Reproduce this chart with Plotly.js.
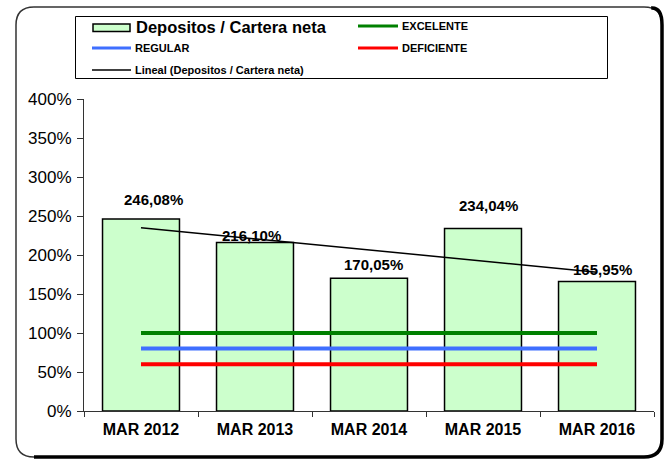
<!DOCTYPE html>
<html><head><meta charset="utf-8">
<script src="https://cdn.plot.ly/plotly-3.0.1.min.js"></script>
<style>html,body{margin:0;padding:0;background:#fff}#chart{width:668px;height:460px}</style>
</head><body><div id="chart"></div>
<script>
// ---- data ----
const categories = ['MAR 2012', 'MAR 2013', 'MAR 2014', 'MAR 2015', 'MAR 2016'];
const depositos = [246.08, 216.10, 170.05, 234.04, 165.95];
const depositosLabels = ['246,08%', '216,10%', '170,05%', '234,04%', '165,95%'];
const excelente = [100, 100, 100, 100, 100];
const regular = [80, 80, 80, 80, 80];
const deficiente = [60, 60, 60, 60, 60];
const trendCategories = ['MAR 2012', 'MAR 2016'];
const trendValues = [235, 178];
const seriesNames = ['Depositos / Cartera neta', 'EXCELENTE', 'REGULAR', 'DEFICIENTE', 'Lineal (Depositos / Cartera neta)'];

// ---- styling (positions, colours) ----
const FONT = 'Arial, "Liberation Sans", sans-serif';
const colBar = '#CCFFCC', colGreen = '#008000', colBlue = '#3F6FFF', colRed = '#FF0000';
const labelShiftX = [12, -4, 4, 5, 5];
const labelShiftY = [20, 7, 14, 23, 12];

const W = 668, H = 460, ML = 84, MR = 14, MT = 99, MB = 49;
const PW = W - ML - MR, PH = H - MT - MB;
const PX = x => (x - ML) / PW;
const PY = y => (H - MB - y) / PH;
const pt = (x, y) => PX(x).toFixed(5) + ',' + PY(y).toFixed(5);

function roundRect(x0, y0, x1, y1, r) {
  return 'M' + pt(x0 + r, y0) + ' L' + pt(x1 - r, y0) + ' Q' + pt(x1, y0) + ' ' + pt(x1, y0 + r) +
    ' L' + pt(x1, y1 - r) + ' Q' + pt(x1, y1) + ' ' + pt(x1 - r, y1) +
    ' L' + pt(x0 + r, y1) + ' Q' + pt(x0, y1) + ' ' + pt(x0, y1 - r) +
    ' L' + pt(x0, y0 + r) + ' Q' + pt(x0, y0) + ' ' + pt(x0 + r, y0) + ' Z';
}
function shadowPath(x0, y0, x1, y1, r) {
  return 'M' + pt(x1 - r * 0.6, y0 + 1) + ' Q' + pt(x1, y0) + ' ' + pt(x1, y0 + r) +
    ' L' + pt(x1, y1 - r) + ' Q' + pt(x1, y1) + ' ' + pt(x1 - r, y1) +
    ' L' + pt(x0 + r, y1);
}

const traces = [
  {type: 'bar', name: seriesNames[0], x: categories, y: depositos,
   marker: {color: colBar, line: {color: '#000', width: 1.5}}, showlegend: false, hoverinfo: 'skip'},
  {type: 'scatter', mode: 'lines', name: seriesNames[1], x: categories, y: excelente,
   line: {color: colGreen, width: 4}, showlegend: false},
  {type: 'scatter', mode: 'lines', name: seriesNames[2], x: categories, y: regular,
   line: {color: colBlue, width: 4}, showlegend: false},
  {type: 'scatter', mode: 'lines', name: seriesNames[3], x: categories, y: deficiente,
   line: {color: colRed, width: 4}, showlegend: false},
  {type: 'scatter', mode: 'lines', name: seriesNames[4], x: trendCategories, y: trendValues,
   line: {color: '#000', width: 1.5}, showlegend: false}
];

const annotations = categories.map((c, i) => ({
  x: c, y: depositos[i], xref: 'x', yref: 'y', text: depositosLabels[i], showarrow: false,
  xanchor: 'center', yanchor: 'middle', xshift: labelShiftX[i], yshift: labelShiftY[i],
  font: {family: FONT, size: 15, color: '#000', weight: 'bold'}
}));

// manual legend (text)
const legendItems = [
  {name: seriesNames[0], x: 135, y: 27.5, size: 16.5},
  {name: seriesNames[1], x: 401, y: 26.5, size: 11},
  {name: seriesNames[2], x: 134, y: 48, size: 11},
  {name: seriesNames[3], x: 401, y: 48, size: 11},
  {name: seriesNames[4], x: 134, y: 70, size: 11}
];
legendItems.forEach(it => annotations.push({
  x: PX(it.x), y: PY(it.y), xref: 'paper', yref: 'paper', text: it.name, showarrow: false,
  xanchor: 'left', yanchor: 'middle', borderpad: 0,
  font: {family: FONT, size: it.size, color: '#000', weight: 'bold'}
}));

const shapes = [
  // outer chart border
  {type: 'path', xref: 'paper', yref: 'paper', path: roundRect(16, 7, 662, 457, 18),
   line: {color: '#333', width: 1.5}, fillcolor: 'rgba(0,0,0,0)', layer: 'above'},
  {type: 'path', xref: 'paper', yref: 'paper', path: shadowPath(16, 7, 662, 457, 18),
   line: {color: '#000', width: 3.5}, fillcolor: 'rgba(0,0,0,0)', layer: 'above'},
  // legend border
  {type: 'rect', xref: 'paper', yref: 'paper', x0: PX(75.5), x1: PX(607.5), y0: PY(16.5), y1: PY(78.5),
   line: {color: '#000', width: 1}, fillcolor: 'rgba(0,0,0,0)', layer: 'above'},
  // legend symbols
  {type: 'rect', xref: 'paper', yref: 'paper', x0: PX(93), x1: PX(130), y0: PY(24), y1: PY(31.5),
   line: {color: '#000', width: 1.5}, fillcolor: colBar, layer: 'above'},
  {type: 'line', xref: 'paper', yref: 'paper', x0: PX(358), x1: PX(398), y0: PY(26), y1: PY(26),
   line: {color: colGreen, width: 3}, layer: 'above'},
  {type: 'line', xref: 'paper', yref: 'paper', x0: PX(92), x1: PX(131), y0: PY(48), y1: PY(48),
   line: {color: colBlue, width: 3}, layer: 'above'},
  {type: 'line', xref: 'paper', yref: 'paper', x0: PX(358), x1: PX(398), y0: PY(48), y1: PY(48),
   line: {color: colRed, width: 3}, layer: 'above'},
  {type: 'line', xref: 'paper', yref: 'paper', x0: PX(92), x1: PX(131), y0: PY(70), y1: PY(70),
   line: {color: '#000', width: 1.5}, layer: 'above'}
];

const layout = {
  width: W, height: H,
  margin: {l: ML, r: MR, t: MT, b: MB, pad: 0},
  paper_bgcolor: '#fff', plot_bgcolor: '#fff',
  font: {family: FONT, color: '#000'},
  showlegend: false,
  bargap: 0.325,
  xaxis: {type: 'category', categoryorder: 'array', categoryarray: categories,
    showline: true, linecolor: '#333', linewidth: 1, showgrid: false, zeroline: false,
    ticks: 'outside', tickson: 'boundaries', ticklen: 5, tickcolor: '#333', tickwidth: 1,
    ticklabelstandoff: 4,
    tickfont: {family: FONT, size: 16, color: '#000', weight: 'bold'}, fixedrange: true},
  yaxis: {range: [0, 400], dtick: 50, tick0: 0, ticksuffix: '%',
    showline: true, linecolor: '#333', linewidth: 1, showgrid: false, zeroline: false,
    ticks: 'outside', ticklen: 6, tickcolor: '#333', tickwidth: 1,
    ticklabelstandoff: 2,
    tickfont: {family: FONT, size: 17, color: '#000'}, fixedrange: true},
  annotations: annotations,
  shapes: shapes
};

Plotly.newPlot('chart', traces, layout, {displayModeBar: false, staticPlot: true});
</script>
</body></html>
